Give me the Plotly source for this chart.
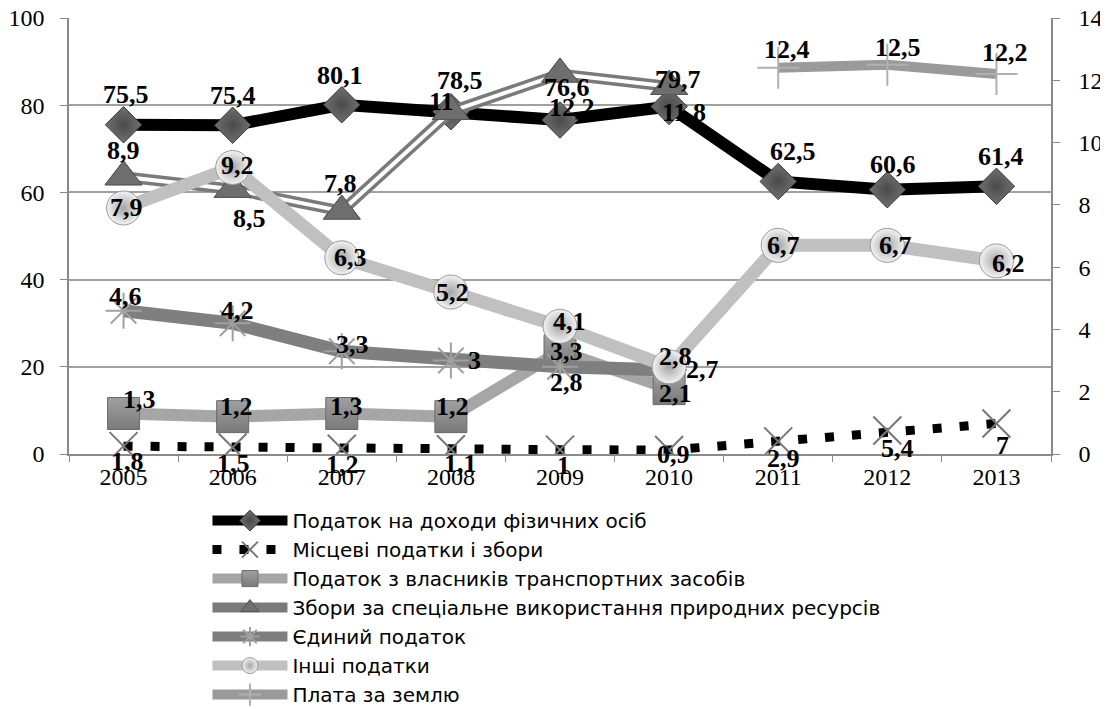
import plotly.graph_objects as go

years = ["2005", "2006", "2007", "2008", "2009", "2010", "2011", "2012", "2013"]

pit = [75.5, 75.4, 80.1, 78.5, 76.6, 79.7, 62.5, 60.6, 61.4]          # left axis
local_fees = [1.8, 1.5, 1.2, 1.1, 1, 0.9, 2.9, 5.4, 7]                  # left axis
transport = [1.3, 1.2, 1.3, 1.2, 3.3, 2.1, None, None, None]           # right axis
nat_res = [8.9, 8.5, 7.8, 11, 12.2, 11.8, None, None, None]            # right axis
single_tax = [4.6, 4.2, 3.3, 3, 2.8, 2.7, None, None, None]            # right axis
other_taxes = [7.9, 9.2, 6.3, 5.2, 4.1, 2.8, 6.7, 6.7, 6.2]            # right axis
land_fee = [None, None, None, None, None, None, 12.4, 12.5, 12.2]      # right axis

names = [
    "Податок на доходи фізичних осіб",
    "Місцеві податки і збори",
    "Податок з власників транспортних засобів",
    "Збори за спеціальне використання природних ресурсів",
    "Єдиний податок",
    "Інші податки",
    "Плата за землю",
]

left_ticks = [0, 20, 40, 60, 80, 100]
right_ticks = [0, 2, 4, 6, 8, 10, 12, 14]

# label offsets in pixels (dx right, dy down) - style only
off_pit = ([2, 0, -2, 9, 7, 9, 15, 6, 5], [-30, -30, -29, -31, -33, -27, -30, -25, -30])
off_loc = ([4, 1, 1, 10, 3, 4, 5, 10, 6], [15, 16, 16, 14, 16, 4, 17, 18, 22])
off_tr = ([16, 4, 5, 2, 6, 6, 0, 0, 0], [-14, -10, -7, -10, 0, 5, 0, 0, 0])
off_nat = ([0, 17, -1, -9, 12, 15, 0, 0, 0], [-26, 29, -28, -10, 33, 26, 0, 0, 0])
off_single = ([2, 5, 11, 24, 6, 33, 0, 0, 0], [-14, -13, -7, 0, 16, 0, 0, 0, 0])
off_other = ([3, 5, 9, 2, 9, 6, 5, 8, 12], [0, -2, 0, 0, -5, -10, 0, 0, 3])
off_land = ([0, 0, 0, 0, 0, 0, 9, 11, 9], [0, 0, 0, 0, 0, 0, -18, -17, -22])

fig = go.Figure()

fig.add_trace(go.Scatter(
    x=years, y=pit, name=names[0], mode="lines+markers", yaxis="y",
    line=dict(color="#000000", width=12),
    marker=dict(symbol="diamond", size=28, color="#707070", line=dict(color="#3a3a3a", width=1),
                gradient=dict(type="radial", color="#4a4a4a")),
))
fig.add_trace(go.Scatter(
    x=years, y=local_fees, name=names[1], mode="lines+markers", yaxis="y",
    line=dict(color="#000000", width=9, dash="9px,18px"),
    marker=dict(symbol="x-thin-open", size=28, color="#777777", line=dict(color="#777777", width=2)),
))
fig.add_trace(go.Scatter(
    x=years, y=transport, name=names[2], mode="lines+markers", yaxis="y2",
    line=dict(color="#a6a6a6", width=12),
    marker=dict(symbol="square", size=32, color="#a0a0a0", line=dict(color="#6a6a6a", width=1),
                gradient=dict(type="vertical", color="#7a7a7a")),
))
fig.add_trace(go.Scatter(
    x=years, y=nat_res, name=names[3], mode="lines+markers", yaxis="y2",
    line=dict(color="#7a7a7a", width=11),
    marker=dict(symbol="triangle-up", size=32, color="#6e6e6e", line=dict(color="#555555", width=1)),
))
fig.add_trace(go.Scatter(
    x=years, y=nat_res, showlegend=False, mode="lines", yaxis="y2", hoverinfo="skip",
    line=dict(color="#ffffff", width=4),
))
fig.add_trace(go.Scatter(
    x=years, y=nat_res, showlegend=False, mode="markers", yaxis="y2", hoverinfo="skip",
    marker=dict(symbol="triangle-up", size=32, color="#6e6e6e", line=dict(color="#555555", width=1)),
))
fig.add_trace(go.Scatter(
    x=years, y=single_tax, name=names[4], mode="lines+markers", yaxis="y2",
    line=dict(color="#7f7f7f", width=13),
    marker=dict(symbol="asterisk-open", size=30, color="#a0a0a0", line=dict(color="#a0a0a0", width=2)),
))
fig.add_trace(go.Scatter(
    x=years, y=other_taxes, name=names[5], mode="lines+markers", yaxis="y2",
    line=dict(color="#c0c0c0", width=13),
    marker=dict(symbol="circle", size=34, color="#f2f2f2", line=dict(color="#9a9a9a", width=1),
                gradient=dict(type="radial", color="#a5a5a5")),
))
fig.add_trace(go.Scatter(
    x=years, y=land_fee, name=names[6], mode="lines+markers", yaxis="y2",
    line=dict(color="#9a9a9a", width=10),
    marker=dict(symbol="cross-thin-open", size=30, color="#b0b0b0", line=dict(color="#b0b0b0", width=2)),
))


def fmt(v):
    return f"{v:g}".replace(".", ",")


annotations = []
for series, yref, offs in [
    (pit, "y", off_pit), (local_fees, "y", off_loc), (transport, "y2", off_tr),
    (nat_res, "y2", off_nat), (single_tax, "y2", off_single),
    (other_taxes, "y2", off_other), (land_fee, "y2", off_land),
]:
    for i, v in enumerate(series):
        if v is None:
            continue
        annotations.append(dict(
            x=i, y=v, xref="x", yref=yref, text=fmt(v), showarrow=False,
            xanchor="center", yanchor="middle",
            xshift=offs[0][i], yshift=-offs[1][i],
            font=dict(family="Liberation Serif", size=26, color="#000000", weight="bold"),
        ))

axis_font = dict(family="Liberation Serif", size=24, color="#000000")

# page body has an 8px margin, so the figure is 16px smaller and margins shifted
fig.update_layout(
    width=1100, height=701,
    margin=dict(l=61, r=57, t=10, b=255, autoexpand=False),
    paper_bgcolor="white", plot_bgcolor="white",
    showlegend=True,
    xaxis=dict(
        type="category", categoryorder="array", categoryarray=years,
        range=[-0.5, len(years) - 0.5], autorange=False,
        showline=True, linecolor="#8a8a8a", linewidth=1.5,
        ticks="outside", tickson="boundaries", ticklen=6, tickcolor="#8a8a8a",
        showgrid=False, tickfont=axis_font, tickangle=0,
    ),
    yaxis=dict(
        range=[0, 100], tickvals=left_ticks, showline=True, linecolor="#8a8a8a", linewidth=1.5,
        ticks="outside", ticklen=7, tickcolor="#8a8a8a",
        showgrid=True, gridcolor="#a0a0a0", gridwidth=1.5, zeroline=False,
        tickfont=axis_font, ticklabelstandoff=11, ticklabeloverflow="allow",
    ),
    yaxis2=dict(
        range=[0, 14], tickvals=right_ticks, overlaying="y", side="right",
        showline=True, linecolor="#8a8a8a", linewidth=1.5,
        ticks="outside", ticklen=7, tickcolor="#8a8a8a",
        showgrid=False, zeroline=False, tickfont=axis_font, ticklabelstandoff=14,
        ticklabeloverflow="allow",
    ),
    legend=dict(
        x=0.141, y=-0.108, xanchor="left", yanchor="top",
        font=dict(family="DejaVu Sans", size=20, color="#000000"),
        bgcolor="rgba(0,0,0,0)", itemwidth=75, tracegroupgap=0,
    ),
    annotations=annotations,
)

fig.write_html("out.html")
